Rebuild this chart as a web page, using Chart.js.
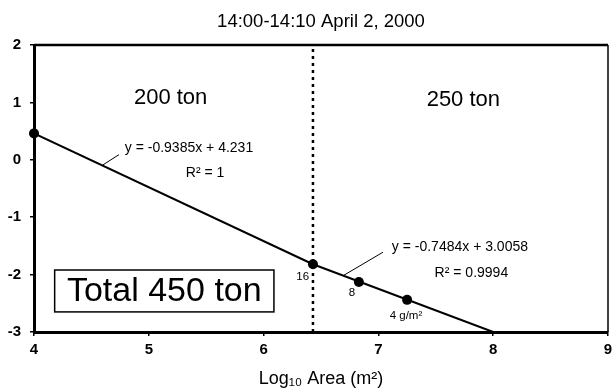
<!DOCTYPE html>
<html><head><meta charset="utf-8">
<script src="https://cdn.jsdelivr.net/npm/chart.js@4/dist/chart.umd.min.js"></script>
<style>html,body{margin:0;padding:0;background:#fff}#wrap{width:613px;height:390px;position:relative}</style>
</head><body><div id="wrap"><canvas id="c" width="613" height="390"></canvas></div>
<script>
const titleText = '14:00-14:10 April 2, 2000';
const xTitle = 'Log\u2081\u2080 Area (m\u00B2)';
const xMin = 4, xMax = 9, yMin = -3, yMax = 2;
// sampled points (log10 area, value)
const pointX = [4.00, 6.43, 6.83, 7.25];
const pointY = [0.46, -1.82, -2.13, -2.44];
// trend lines: endpoints
const trend1X = [4.00, 6.43];
const trend1Y = [0.46, -1.82];
const trend2X = [6.43, 8.00];
const trend2Y = [-1.82, -3.00];
// dotted boundary between the two regions
const boundaryX = [6.43, 6.43];
const boundaryY = [-3, 2];
// text annotations
const noteTexts = ['200 ton', '250 ton', 'y = -0.9385x + 4.231', 'R\u00B2 = 1', 'y = -0.7484x + 3.0058', 'R\u00B2 = 0.9994', '16', '8', '4 g/m\u00B2'];
const boxText = 'Total 450 ton';

const zip = (xs, ys) => xs.map((x, i) => ({x, y: ys[i]}));
const FONT = '"Liberation Sans", Arial, Helvetica, sans-serif';

// annotation placement (data coordinates) and style
const notePos = [
  {x: 5.19, y: 1.08, size: 22}, {x: 7.74, y: 1.04, size: 22},
  {x: 5.35, y: 0.21, size: 14}, {x: 5.49, y: -0.23, size: 14},
  {x: 7.71, y: -1.52, size: 14}, {x: 7.81, y: -1.97, size: 14},
  {x: 6.34, y: -2.04, size: 11.5}, {x: 6.77, y: -2.32, size: 11.5}, {x: 7.24, y: -2.72, size: 11.5}
];
const leaders = [[4.60, -0.09, 4.74, 0.09], [6.70, -2.01, 7.04, -1.61]];
const boxRect = {x0: 4.18, x1: 6.09, y0: -1.92, y1: -2.65};

const annot = {
  id: 'annot',
  beforeDatasetsDraw(chart) {
    const {ctx, chartArea: a} = chart;
    ctx.save();
    ctx.strokeStyle = '#000';
    ctx.lineWidth = 2.5;
    ctx.beginPath(); ctx.moveTo(a.left, a.top); ctx.lineTo(a.right, a.top); ctx.stroke();
    ctx.lineWidth = 1.5;
    ctx.beginPath(); ctx.moveTo(a.right, a.top); ctx.lineTo(a.right, a.bottom); ctx.stroke();
    ctx.restore();
  },
  afterDatasetsDraw(chart) {
    const {ctx} = chart;
    const xs = chart.scales.x, ys = chart.scales.y;
    ctx.save();
    ctx.fillStyle = '#000';
    ctx.textAlign = 'center';
    ctx.textBaseline = 'middle';
    noteTexts.forEach((t, i) => {
      const p = notePos[i];
      ctx.font = p.size + 'px ' + FONT;
      ctx.fillText(t, xs.getPixelForValue(p.x), ys.getPixelForValue(p.y));
    });
    ctx.strokeStyle = '#000';
    ctx.lineWidth = 1;
    leaders.forEach(l => {
      ctx.beginPath();
      ctx.moveTo(xs.getPixelForValue(l[0]), ys.getPixelForValue(l[1]));
      ctx.lineTo(xs.getPixelForValue(l[2]), ys.getPixelForValue(l[3]));
      ctx.stroke();
    });
    const bx0 = xs.getPixelForValue(boxRect.x0), bx1 = xs.getPixelForValue(boxRect.x1);
    const by0 = ys.getPixelForValue(boxRect.y0), by1 = ys.getPixelForValue(boxRect.y1);
    ctx.fillStyle = '#fff';
    ctx.fillRect(bx0, by0, bx1 - bx0, by1 - by0);
    ctx.lineWidth = 1.5;
    ctx.strokeRect(bx0, by0, bx1 - bx0, by1 - by0);
    ctx.fillStyle = '#000';
    ctx.font = '34px ' + FONT;
    ctx.fillText(boxText, (bx0 + bx1) / 2, (by0 + by1) / 2 + 1);
    ctx.restore();
  }
};

new Chart(document.getElementById('c'), {
  type: 'scatter',
  data: {
    datasets: [
      {data: zip(pointX, pointY), showLine: false, pointRadius: 5, pointHoverRadius: 5, clip: false,
       backgroundColor: '#000', borderColor: '#000', pointBorderWidth: 0},
      {data: zip(trend1X, trend1Y), showLine: true, pointRadius: 0, borderColor: '#000', borderWidth: 2},
      {data: zip(trend2X, trend2Y), showLine: true, pointRadius: 0, borderColor: '#000', borderWidth: 2},
      {data: zip(boundaryX, boundaryY), showLine: true, pointRadius: 0, borderColor: '#000', borderWidth: 2.5, borderDash: [3, 4]}
    ]
  },
  options: {
    responsive: false,
    animation: false,
    devicePixelRatio: 1,
    layout: {padding: {left: 0, right: 1, top: 0, bottom: 0}},
    plugins: {
      legend: {display: false},
      tooltip: {enabled: false},
      title: {display: true, text: titleText, color: '#000', fullSize: false,
        font: {family: FONT, size: 18.5, weight: 'normal', lineHeight: 1.2},
        padding: {top: 11, bottom: 11.8}}
    },
    scales: {
      x: {
        type: 'linear', min: xMin, max: xMax,
        ticks: {stepSize: 1, color: '#000', padding: 5, font: {family: FONT, size: 15, weight: 'bold'}},
        grid: {drawOnChartArea: false, drawTicks: true, tickLength: 4, color: '#000', lineWidth: 1.5},
        border: {display: true, color: '#000', width: 3},
        title: {display: true, text: xTitle, color: '#000', font: {family: FONT, size: 18}, padding: {top: 0, bottom: 0}},
        afterFit(s) { s.height = 58; s.paddingLeft = 0; s.paddingRight = 0; }
      },
      y: {
        type: 'linear', min: yMin, max: yMax,
        ticks: {stepSize: 1, color: '#000', padding: 9, font: {family: FONT, size: 15, weight: 'bold'}},
        grid: {drawOnChartArea: false, drawTicks: true, tickLength: 4, color: '#000', lineWidth: 1.5},
        border: {display: true, color: '#000', width: 3},
        afterFit(s) { s.width = 34; s.paddingTop = 0; s.paddingBottom = 0; }
      }
    }
  },
  plugins: [annot]
});
</script>
</body></html>
